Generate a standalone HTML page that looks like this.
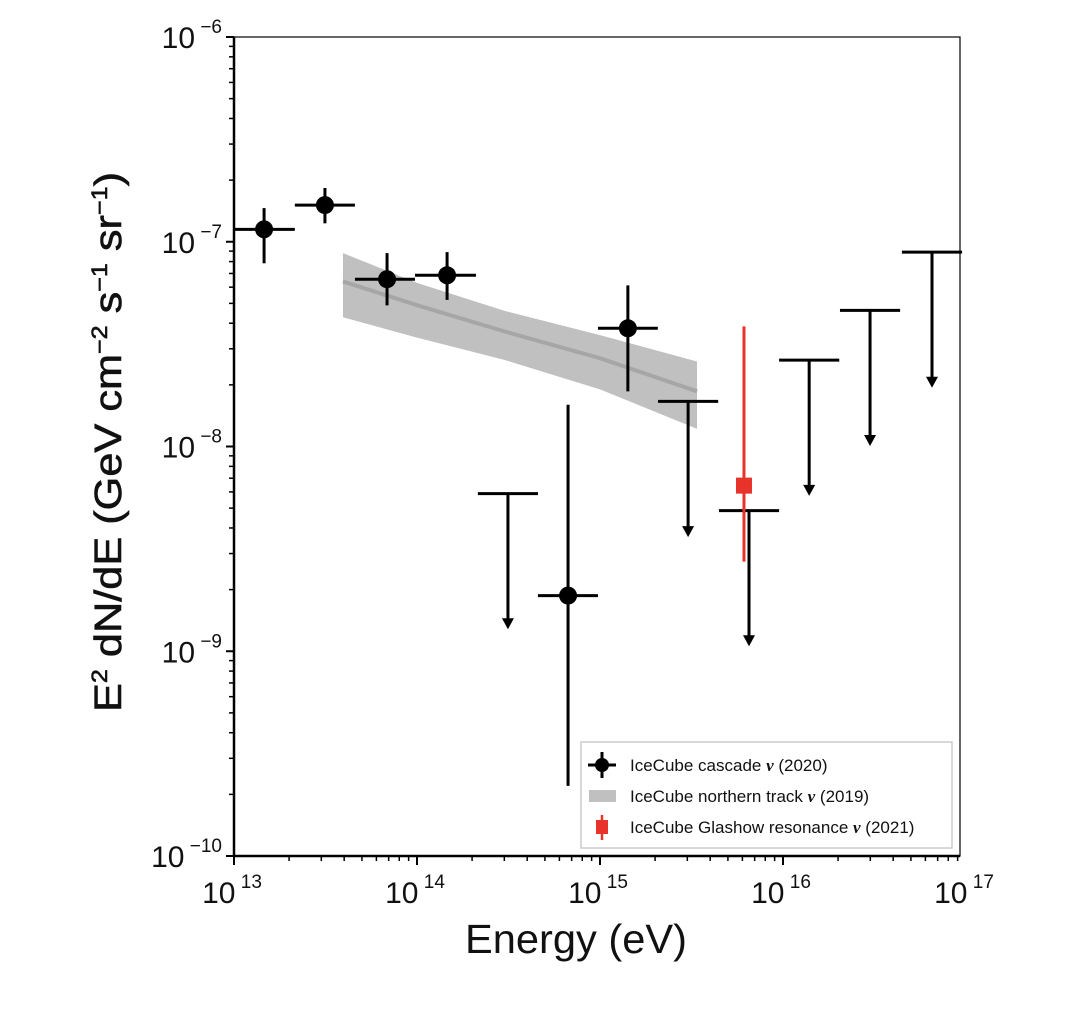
<!DOCTYPE html>
<html><head><meta charset="utf-8"><style>
html,body{margin:0;padding:0;background:#fff;}
svg{display:block;font-family:"Liberation Sans","DejaVu Sans",sans-serif;}
</style></head><body>
<svg id="chart" width="1081" height="1018" viewBox="0 0 1081 1018" xmlns="http://www.w3.org/2000/svg">
<rect x="0" y="0" width="1081" height="1018" fill="#fff"/>
<g id="band"></g>
<g id="marks"></g>
<g id="axes"></g>
<text x="576" y="953" font-size="41" text-anchor="middle" fill="#111" textLength="222" lengthAdjust="spacingAndGlyphs">Energy (eV)</text>
<text transform="translate(121,442) rotate(-90)" font-size="38" text-anchor="middle" fill="#111" stroke="#111" stroke-width="0.6" textLength="540" lengthAdjust="spacingAndGlyphs">E<tspan dy="-14" font-size="22">2</tspan><tspan dy="14"> dN/dE (GeV cm</tspan><tspan dy="-14" font-size="22">−2</tspan><tspan dy="14"> s</tspan><tspan dy="-14" font-size="22">−1</tspan><tspan dy="14"> sr</tspan><tspan dy="-14" font-size="22">−1</tspan><tspan dy="14">)</tspan></text>
<g>
<rect x="581" y="742" width="371" height="106" fill="#fff" stroke="#ccc" stroke-width="1.5"/>
<g>
<line x1="588" y1="765" x2="616" y2="765" stroke="#000" stroke-width="3"/>
<line x1="602" y1="752" x2="602" y2="778" stroke="#000" stroke-width="3"/>
<circle cx="602" cy="765" r="7" fill="#000"/>
<text x="630" y="771" font-size="17" fill="#111">IceCube cascade <tspan font-family="Liberation Serif,serif" font-style="italic" font-weight="bold">ν</tspan> (2020)</text>
</g>
<g>
<rect x="589" y="790" width="27" height="12" fill="#c0c0c0"/>
<text x="630" y="802" font-size="17" fill="#111">IceCube northern track <tspan font-family="Liberation Serif,serif" font-style="italic" font-weight="bold">ν</tspan> (2019)</text>
</g>
<g>
<line x1="602" y1="815" x2="602" y2="840" stroke="#e8332a" stroke-width="2.5"/>
<rect x="596" y="820" width="12" height="14" fill="#e8332a"/>
<text x="630" y="833" font-size="17" fill="#111">IceCube Glashow resonance <tspan font-family="Liberation Serif,serif" font-style="italic" font-weight="bold">ν</tspan> (2021)</text>
</g>
</g>
</svg>
<script>
// ---- data ----
const cascadeE = [1.46e13, 3.14e13, 6.86e13, 1.46e14, 6.69e14, 1.42e15];
const cascadeElo = [1.01e13, 2.15e13, 4.58e13, 9.75e13, 4.58e14, 9.75e14];
const cascadeEhi = [2.15e13, 4.58e13, 9.75e13, 2.10e14, 9.75e14, 2.07e15];
const cascadeF = [1.15e-7, 1.51e-7, 6.56e-8, 6.86e-8, 1.87e-9, 3.78e-8];
const cascadeFlo = [7.85e-8, 1.23e-7, 4.89e-8, 5.2e-8, 2.2e-10, 1.86e-8];
const cascadeFhi = [1.46e-7, 1.83e-7, 8.8e-8, 8.9e-8, 1.6e-8, 6.12e-8];
const limitE = [3.14e14, 3.03e15, 6.52e15, 1.39e16, 2.99e16, 6.52e16];
const limitF = [5.89e-9, 1.66e-8, 4.86e-9, 2.64e-8, 4.62e-8, 8.9e-8];
const glashowE = [6.12e15];
const glashowF = [6.44e-9];
const glashowFlo = [2.74e-9];
const glashowFhi = [3.86e-8];
const bandE = [3.94e13, 1e14, 3e14, 1e15, 3.39e15];
const bandLo = [4.28e-8, 3.4e-8, 2.65e-8, 1.9e-8, 1.22e-8];
const bandHi = [8.8e-8, 6.3e-8, 4.6e-8, 3.5e-8, 2.6e-8];
const bandMid = [6.4e-8, 4.9e-8, 3.65e-8, 2.7e-8, 1.86e-8];
const xTickExp = [13, 14, 15, 16, 17];
const yTickExp = [-6, -7, -8, -9, -10];

// ---- axes ----
const X0 = 234, PX_DEC = 183, Y0 = 37, Y1 = 856, LEFT = 234, RIGHT = 960;
const PY_DEC = (Y1 - Y0) / 4;
const xs = e => X0 + PX_DEC * (Math.log10(e) - 13);
const ys = v => Y0 + PY_DEC * (-6 - Math.log10(v));
const NS = 'http://www.w3.org/2000/svg';
function mk(tag, attrs, parent) {
  const el = document.createElementNS(NS, tag);
  for (const k in attrs) el.setAttribute(k, attrs[k]);
  parent.appendChild(el);
  return el;
}
const axes = document.getElementById('axes');
const marks = document.getElementById('marks');
const bandG = document.getElementById('band');

// band
let pts = bandE.map((e, i) => xs(e) + ',' + ys(bandHi[i]));
pts = pts.concat(bandE.slice().reverse().map((e, j) => { const i = bandE.length - 1 - j; return xs(e) + ',' + ys(bandLo[i]); }));
const poly = mk('polygon', { points: pts.join(' '), fill: '#c0c0c0' }, bandG);


const mid = mk('polyline', { points: bandE.map((e, i) => xs(e) + ',' + ys(bandMid[i])).join(' '), fill: 'none', stroke: '#a6a6a6', 'stroke-width': 4 }, bandG);



// cascade points
cascadeE.forEach((e, i) => {
  const g = mk('g', {}, marks);
  
  
  mk('line', { x1: xs(cascadeElo[i]), x2: xs(cascadeEhi[i]), y1: ys(cascadeF[i]), y2: ys(cascadeF[i]), stroke: '#000', 'stroke-width': 3 }, g);
  mk('line', { x1: xs(e), x2: xs(e), y1: ys(cascadeFlo[i]), y2: ys(cascadeFhi[i]), stroke: '#000', 'stroke-width': 3 }, g);
  mk('circle', { cx: xs(e), cy: ys(cascadeF[i]), r: 9, fill: '#000' }, g);
});
// upper limits
limitE.forEach((e, i) => {
  const g = mk('g', {}, marks);
  
  
  const x = xs(e), y = ys(limitF[i]);
  const y2 = ys(limitF[i] * 0.22);
  mk('line', { x1: xs(e / 1.46), x2: xs(e * 1.46), y1: y, y2: y, stroke: '#000', 'stroke-width': 3 }, g);
  mk('line', { x1: x, x2: x, y1: y, y2: y2 - 6, stroke: '#000', 'stroke-width': 3 }, g);
  mk('polygon', { points: (x - 6) + ',' + (y2 - 10) + ' ' + (x + 6) + ',' + (y2 - 10) + ' ' + x + ',' + (y2 + 1), fill: '#000' }, g);
});
// glashow
glashowE.forEach((e, i) => {
  const g = mk('g', {}, marks);
  
  
  mk('line', { x1: xs(e), x2: xs(e), y1: ys(glashowFlo[i]), y2: ys(glashowFhi[i]), stroke: '#e8332a', 'stroke-width': 3 }, g);
  mk('rect', { x: xs(e) - 8, y: ys(glashowF[i]) - 8, width: 16, height: 16, fill: '#e8332a' }, g);
});

// frame
const frame = mk('rect', { x: LEFT, y: Y0, width: RIGHT - LEFT, height: Y1 - Y0, fill: 'none', stroke: '#000', 'stroke-width': 1.2 }, axes);


mk('line', { x1: LEFT, x2: LEFT, y1: Y0, y2: Y1, stroke: '#000', 'stroke-width': 2.5 }, axes);
mk('line', { x1: LEFT, x2: RIGHT, y1: Y1, y2: Y1, stroke: '#000', 'stroke-width': 2.5 }, axes);

// y ticks
yTickExp.forEach(p => {
  const y = ys(Math.pow(10, p));
  mk('line', { x1: LEFT - 8, x2: LEFT, y1: y, y2: y, stroke: '#000', 'stroke-width': 2 }, axes);
  const t = mk('text', { x: 222, y: y + 11, 'font-size': 30, 'text-anchor': 'end', fill: '#111' }, axes);
  
  
  t.innerHTML = '10<tspan dy="-15" font-size="19"> \u2212' + Math.abs(p) + '</tspan>';
  if (p > -10) for (let m = 2; m < 10; m++) {
    const ym = ys(m * Math.pow(10, p - 1));
    mk('line', { x1: LEFT - 5, x2: LEFT, y1: ym, y2: ym, stroke: '#000', 'stroke-width': 1.5 }, axes);
  }
});
// x ticks
xTickExp.forEach(p => {
  const x = xs(Math.pow(10, p));
  if (x <= RIGHT + 1) mk('line', { x1: x, x2: x, y1: Y1, y2: Y1 + 9, stroke: '#000', 'stroke-width': 2 }, axes);
  const t = mk('text', { x: x - 2, y: 903, 'font-size': 30, 'text-anchor': 'middle', fill: '#111' }, axes);
  
  
  t.innerHTML = '10<tspan dy="-15" font-size="19"> ' + p + '</tspan>';
  for (let m = 2; m < 10; m++) {
    const xm = xs(m * Math.pow(10, p));
    if (xm < RIGHT) mk('line', { x1: xm, x2: xm, y1: Y1, y2: Y1 + 5, stroke: '#000', 'stroke-width': 1.5 }, axes);
  }
});
</script>
</body></html>
